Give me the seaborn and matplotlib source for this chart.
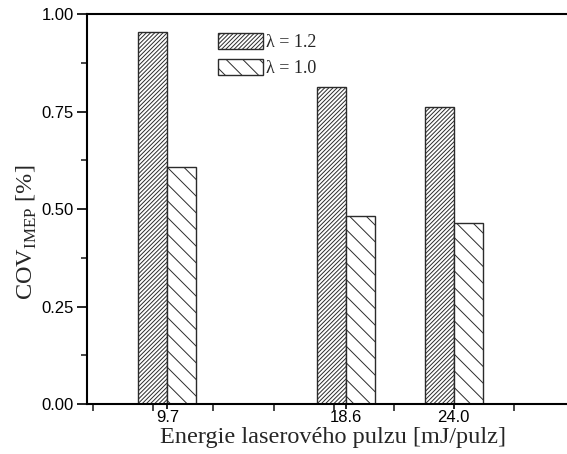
import matplotlib
matplotlib.use("Agg")
import matplotlib.pyplot as plt
from matplotlib.ticker import FixedLocator, MultipleLocator
import seaborn as sns
import pandas as pd

# Laser pulse energy [mJ/pulse] and cycle-to-cycle variability for two air-fuel ratios
energy = [9.7, 18.6, 24.0]
cov_lambda_12 = [0.954, 0.812, 0.763]
cov_lambda_10 = [0.607, 0.483, 0.463]
series_labels = ["\u03bb = 1.2", "\u03bb = 1.0"]
energy_labels = ["9.7", "18.6", "24.0"]
y_ticks = [0.00, 0.25, 0.50, 0.75, 1.00]

df = pd.DataFrame({
    "energy": energy * 2,
    "cov": cov_lambda_12 + cov_lambda_10,
    "lam": [series_labels[0]] * len(energy) + [series_labels[1]] * len(energy),
})

sns.set_theme(style="white")
plt.rcParams["hatch.linewidth"] = 0.7
plt.rcParams["mathtext.fontset"] = "custom"
plt.rcParams["mathtext.rm"] = "Liberation Serif"

fig = plt.figure(figsize=(5.67, 4.54), dpi=100)
ax = fig.add_axes([0.1526, 0.110, 0.87, 0.859])

edge = "#2b2b2b"
sns.barplot(data=df, x="energy", y="cov", hue="lam", hue_order=series_labels,
            native_scale=True, width=0.537, dodge=True,
            palette=["white", "white"], edgecolor=edge, linewidth=1.0,
            legend=False, ax=ax, errorbar=None, saturation=1)

hatches = ["////////", "\\\\"]
for container, hatch in zip(ax.containers, hatches):
    for bar in container:
        bar.set_hatch(hatch)
        bar.set_edgecolor(edge)

ax.set_xlim(5.66, 30.3)
ax.set_ylim(0, 1.0)

# axis ticks
ax.xaxis.set_major_locator(FixedLocator(energy))
ax.set_xticklabels(energy_labels, family="Liberation Sans", fontsize=12)
ax.xaxis.set_minor_locator(FixedLocator([6, 9, 12, 15, 18, 21, 24, 27, 30]))
ax.yaxis.set_major_locator(FixedLocator(y_ticks))
ax.set_yticklabels([f"{v:.2f}" for v in y_ticks], family="Liberation Sans", fontsize=12)
ax.yaxis.set_minor_locator(MultipleLocator(0.125))

ax.tick_params(axis="x", which="major", direction="inout", length=7, width=1.2,
               bottom=True, pad=1, colors="black")
ax.tick_params(axis="x", which="minor", direction="out", length=5, width=1.2, bottom=True)
ax.tick_params(axis="y", which="major", direction="out", length=7, width=1.2,
               left=True, pad=2, colors="black")
ax.tick_params(axis="y", which="minor", direction="out", length=4, width=1.2, left=True)

for side in ["left", "bottom", "top", "right"]:
    ax.spines[side].set_color("black")
    ax.spines[side].set_linewidth(1.5)

ax.set_xlabel("Energie laserov\u00e9ho pulzu [mJ/pulz]", family="Liberation Serif",
              fontsize=17.5, labelpad=1)
ax.set_ylabel(r"COV$_{\mathrm{IMEP}}$ [%]", family="Liberation Serif", fontsize=17.5)
ax.yaxis.set_label_coords(-0.097, 0.44)

leg = ax.legend(handles=ax.containers, labels=series_labels, loc="upper left",
                bbox_to_anchor=(0.24, 0.985), frameon=False,
                prop={"family": "Liberation Serif", "size": 13},
                handlelength=2.5, handleheight=1.0, handletextpad=0.2,
                labelspacing=0.45, borderpad=0.2)

fig.savefig("out.png", dpi=100, facecolor="white")
